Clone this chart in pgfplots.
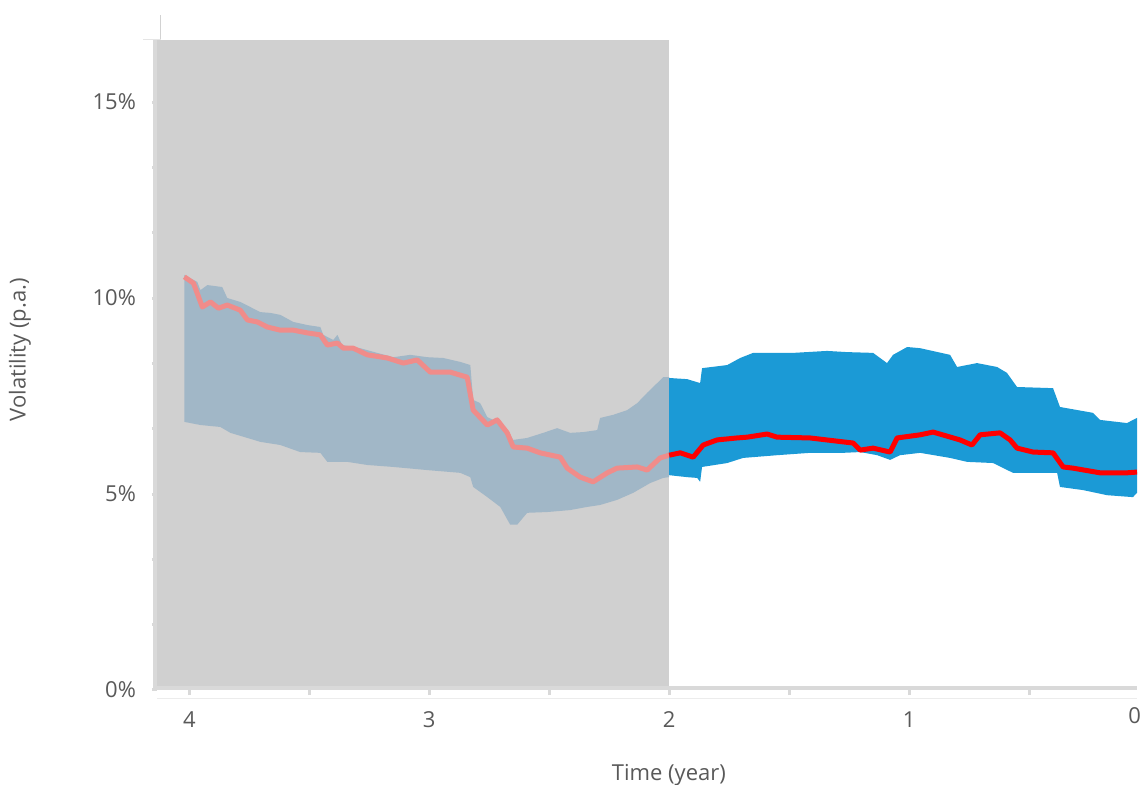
\documentclass[border=0pt]{standalone}
\usepackage{fontspec}
\setmainfont{Open Sans}
\usepackage{pgfplots}
\pgfplotsset{compat=1.18}

\definecolor{shadegray}{HTML}{D0D0D0}
\definecolor{bandgray}{HTML}{A1B7C7}
\definecolor{linepink}{HTML}{F08C8A}
\definecolor{bandblue}{HTML}{1B9AD6}
\definecolor{linered}{HTML}{FF0000}
\definecolor{axisgray}{HTML}{D9D9D9}
\definecolor{labelgray}{HTML}{595959}

\begin{document}
\begin{tikzpicture}
% page = 1143 x 785 px at 0.5pt per px, axis box at px (157..1137, 15..690)
\useasboundingbox (-78.5pt,-47.5pt) rectangle (493pt,345pt);
\begin{axis}[
    at={(0,0)}, anchor=south west,
    scale only axis, width=490pt, height=337.5pt,
    x dir=reverse,
    xmin=0.05, xmax=4.135,
    ymin=0, ymax=17.22,
    axis line style={draw=none},
    tick pos=left,
    tick align=outside,
    xtick={1,2,3,4}, xticklabels={1,2,3,4},
    extra x ticks={0.06}, extra x tick labels={0},
    extra x tick style={major tick length=0pt},
    minor xtick={0.5,1.5,2.5,3.5},
    ytick={0,5,10,15}, yticklabels={0\%,5\%,10\%,15\%},
    minor ytick={1.667,3.333,6.667,8.333,11.667,13.333},
    /pgf/number format/assume math mode=true,
    tick style={draw=axisgray, line width=1.5pt},
    major tick length=2.5pt, minor tick length=2.5pt,
    ticklabel style={font=\fontsize{11}{13}\selectfont, text=labelgray},
    xticklabel style={yshift=-5pt},
    yticklabel style={xshift=-4.5pt},
    xlabel={Time (year)},
    xlabel style={at={(axis description cs:0.5224,-0.126)}, anchor=center,
        font=\fontsize{11}{13}\selectfont, text=labelgray},
    ylabel={Volatility (p.a.)},
    ylabel style={at={(axis description cs:-0.1398,0.504)}, anchor=center,
        font=\fontsize{11}{13}\selectfont, text=labelgray},
]

% --- shaded history window ---
\addplot[draw=none, fill=shadegray] coordinates {
    (4.2,0) (2,0) (2,16.58) (4.2,16.58)
};

% --- band, history part ---
\addplot[draw=none, fill=bandgray] coordinates {
    (4.021,10.59) (3.967,10.41) (3.954,10.20) (3.925,10.33) (3.863,10.28)
    (3.842,10.00) (3.788,9.90) (3.746,9.77) (3.704,9.64) (3.663,9.62)
    (3.621,9.57) (3.567,9.39) (3.508,9.31) (3.454,9.26) (3.442,9.06)
    (3.400,8.93) (3.383,9.06) (3.363,8.80) (3.288,8.72) (3.217,8.60)
    (3.150,8.49) (3.079,8.55) (3.008,8.49) (2.942,8.47) (2.871,8.37)
    (2.829,8.29) (2.817,7.40) (2.788,7.32) (2.758,6.96) (2.733,6.89)
    (2.704,6.84) (2.675,6.63) (2.650,6.38) (2.592,6.43) (2.525,6.56)
    (2.467,6.68) (2.413,6.56) (2.358,6.58) (2.300,6.63) (2.288,6.94)
    (2.233,7.02) (2.175,7.14) (2.133,7.32) (2.092,7.58) (2.050,7.83)
    (2.025,7.98) (2.000,7.98)
    (2.000,5.43) (2.025,5.41) (2.079,5.28) (2.150,5.03) (2.217,4.85)
    (2.288,4.72) (2.342,4.67) (2.413,4.59) (2.508,4.54) (2.592,4.52)
    (2.633,4.22) (2.663,4.22) (2.704,4.67) (2.758,4.92) (2.817,5.18)
    (2.829,5.43) (2.871,5.54) (3.008,5.61) (3.150,5.69) (3.258,5.74)
    (3.342,5.82) (3.425,5.82) (3.454,6.05) (3.538,6.07) (3.621,6.25)
    (3.704,6.33) (3.829,6.56) (3.871,6.71) (3.954,6.76) (4.021,6.84)
};

% --- median, history part ---
\addplot[linepink, line width=2.5pt, line join=round] coordinates {
    (4.021,10.54) (3.983,10.38) (3.946,9.77) (3.912,9.90) (3.879,9.74)
    (3.842,9.82) (3.788,9.69) (3.758,9.44) (3.717,9.39) (3.675,9.26)
    (3.621,9.18) (3.567,9.18) (3.508,9.11) (3.454,9.06) (3.425,8.80)
    (3.383,8.85) (3.358,8.72) (3.317,8.72) (3.258,8.55) (3.175,8.47)
    (3.108,8.34) (3.050,8.42) (2.996,8.11) (2.913,8.11) (2.842,7.98)
    (2.817,7.14) (2.758,6.76) (2.717,6.89) (2.675,6.56) (2.650,6.20)
    (2.592,6.17) (2.538,6.05) (2.454,5.94) (2.425,5.66) (2.371,5.43)
    (2.317,5.31) (2.258,5.54) (2.217,5.66) (2.133,5.69) (2.092,5.61)
    (2.038,5.92) (2.000,5.99)
};

% --- band, forecast part ---
\addplot[draw=none, fill=bandblue] coordinates {
    (2.000,7.96) (1.925,7.93) (1.871,7.83) (1.863,8.21) (1.758,8.29)
    (1.704,8.47) (1.650,8.60) (1.483,8.60) (1.342,8.65) (1.258,8.62)
    (1.150,8.60) (1.092,8.34) (1.067,8.55) (1.008,8.75) (0.954,8.72)
    (0.829,8.55) (0.800,8.24) (0.717,8.34) (0.633,8.24) (0.592,8.09)
    (0.550,7.73) (0.400,7.70) (0.371,7.22) (0.233,7.07) (0.204,6.89)
    (0.092,6.81) (0.050,6.94)
    (0.050,5.03) (0.067,4.92) (0.175,4.97) (0.275,5.10) (0.371,5.18)
    (0.383,5.54) (0.567,5.54) (0.650,5.79) (0.758,5.82) (0.829,5.92)
    (0.954,6.05) (1.038,5.99) (1.079,5.87) (1.133,5.99) (1.204,6.07)
    (1.275,6.05) (1.413,6.05) (1.550,5.99) (1.692,5.92) (1.758,5.79)
    (1.863,5.69) (1.871,5.31) (1.883,5.41) (1.925,5.43) (2.000,5.48)
};

% --- median, forecast part ---
\addplot[linered, line width=2.5pt, line join=round] coordinates {
    (2.000,5.99) (1.954,6.05) (1.900,5.94) (1.858,6.25) (1.800,6.38)
    (1.717,6.43) (1.675,6.45) (1.592,6.53) (1.550,6.45) (1.413,6.43)
    (1.275,6.33) (1.233,6.30) (1.204,6.12) (1.150,6.17) (1.079,6.07)
    (1.050,6.43) (0.954,6.51) (0.900,6.58) (0.788,6.38) (0.738,6.25)
    (0.704,6.51) (0.621,6.56) (0.579,6.38) (0.550,6.17) (0.483,6.07)
    (0.400,6.05) (0.358,5.69) (0.317,5.66) (0.204,5.54) (0.092,5.54)
    (0.050,5.56)
};
\end{axis}

% --- axis frame pieces ---
\draw[axisgray, line width=2pt] (-1pt,0) -- (-1pt,325pt);
\draw[gray!35, line width=0.5pt] (1.75pt,325pt) -- (1.75pt,337.5pt);
\draw[gray!20, line width=0.5pt] (-7pt,325pt) -- (1.75pt,325pt);
\draw[axisgray, line width=2pt] (0,1pt) -- (490pt,1pt);
\draw[gray!15, line width=0.5pt] (0,-4.5pt) -- (490pt,-4.5pt);
\end{tikzpicture}
\end{document}
